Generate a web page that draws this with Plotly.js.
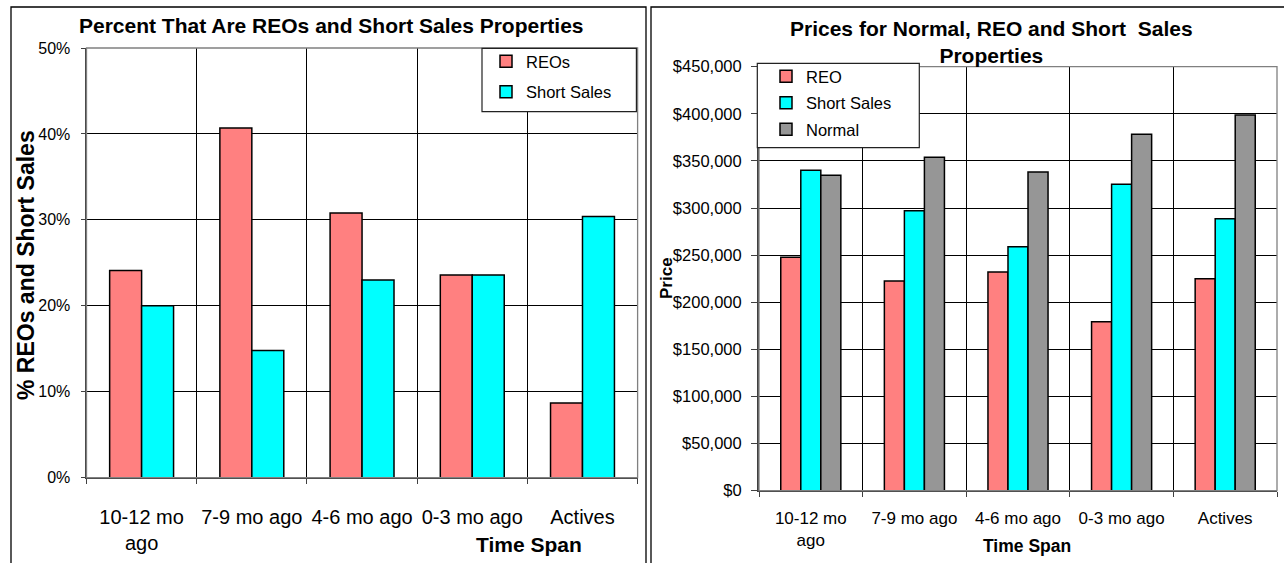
<!DOCTYPE html>
<html>
<head>
<meta charset="utf-8">
<script src="https://cdn.plot.ly/plotly-3.0.1.min.js"></script>
<style>html,body{margin:0;padding:0;background:#fff;}#chart{width:1284px;height:563px;}</style>
</head>
<body>
<div id="chart"></div>
<script>
// ---- data ----
const categories = ['10-12 mo ago', '7-9 mo ago', '4-6 mo ago', '0-3 mo ago', 'Actives'];
const tickLabels = ['10-12 mo<br>ago', '7-9 mo ago', '4-6 mo ago', '0-3 mo ago', 'Actives'];
const reoPct = [24.1, 40.7, 30.8, 23.6, 8.7];
const shortPct = [20.0, 14.8, 23.0, 23.6, 30.4];
const reoPrice = [247700, 222600, 232100, 179400, 225000];
const shortPrice = [340000, 297200, 259000, 325200, 288700];
const normalPrice = [334700, 353800, 338200, 378200, 398700];
const pctTicks = [0, 10, 20, 30, 40, 50];
const pctTickLabels = ['0%', '10%', '20%', '30%', '40%', '50%'];
const priceTicks = [0, 50000, 100000, 150000, 200000, 250000, 300000, 350000, 400000, 450000];
const priceTickLabels = ['$0', '$50,000', '$100,000', '$150,000', '$200,000', '$250,000', '$300,000', '$350,000', '$400,000', '$450,000'];

// ---- layout helpers ----
const W = 1284, H = 563;
const px = x => x / W;
const py = y => 1 - y / H;
const FONT = 'Liberation Sans, Arial, sans-serif';
const C_REO = '#FF8080', C_SHORT = '#00FFFF', C_NORMAL = '#969696';
const barLine = {color: '#000', width: 1.5};

const traces = [
  {type: 'bar', name: 'REOs', x: categories, y: reoPct, xaxis: 'x', yaxis: 'y',
   marker: {color: C_REO, line: barLine}, legend: 'legend', legendgroup: 'a', hoverinfo: 'none'},
  {type: 'bar', name: 'Short Sales', x: categories, y: shortPct, xaxis: 'x', yaxis: 'y',
   marker: {color: C_SHORT, line: barLine}, legend: 'legend', legendgroup: 'b', hoverinfo: 'none'},
  {type: 'bar', name: 'REO', x: categories, y: reoPrice, xaxis: 'x2', yaxis: 'y2',
   marker: {color: C_REO, line: barLine}, legend: 'legend2', legendgroup: 'c', hoverinfo: 'none'},
  {type: 'bar', name: 'Short Sales', x: categories, y: shortPrice, xaxis: 'x2', yaxis: 'y2',
   marker: {color: C_SHORT, line: barLine}, legend: 'legend2', legendgroup: 'd', hoverinfo: 'none'},
  {type: 'bar', name: 'Normal', x: categories, y: normalPrice, xaxis: 'x2', yaxis: 'y2',
   marker: {color: C_NORMAL, line: barLine}, legend: 'legend2', legendgroup: 'e', hoverinfo: 'none'}
];

const xCommon = {
  type: 'category', tickson: 'boundaries', ticks: 'outside', ticklen: 5, tickcolor: '#404040',
  showline: true, linecolor: '#404040', linewidth: 1.5, showgrid: true, gridcolor: '#000', gridwidth: 1,
  tickangle: 0, tickmode: 'array', tickvals: categories, ticktext: tickLabels, zeroline: false
};

const layout = {
  width: W, height: H, margin: {l: 0, r: 0, t: 0, b: 0},
  paper_bgcolor: '#fff', plot_bgcolor: '#fff', barmode: 'group', showlegend: true,
  font: {family: FONT, color: '#000'},
  xaxis: Object.assign({}, xCommon, {domain: [px(86.5), px(637.6)], anchor: 'y',
    tickfont: {family: FONT, size: 20, color: '#000'}, ticklabelstandoff: 21}),
  yaxis: {domain: [py(477.7), py(48)], anchor: 'x', range: [0, 50], tickmode: 'array', tickvals: pctTicks,
    ticktext: pctTickLabels, ticks: 'outside', ticklen: 4, tickcolor: '#404040', showline: true, linecolor: '#404040',
    linewidth: 2, showgrid: true, gridcolor: '#000', gridwidth: 1, zeroline: false,
    tickfont: {family: FONT, size: 16, color: '#000'}, ticklabelstandoff: 7},
  xaxis2: Object.assign({}, xCommon, {domain: [px(759), px(1277)], anchor: 'y2',
    tickfont: {family: FONT, size: 17, color: '#000'}, ticklabelstandoff: 11}),
  yaxis2: {domain: [py(490.7), py(66.7)], anchor: 'x2', range: [0, 450000], tickmode: 'array', tickvals: priceTicks,
    ticktext: priceTickLabels, ticks: 'outside', ticklen: 6, tickcolor: '#404040', showline: true,
    linecolor: '#404040', linewidth: 2, showgrid: true, gridcolor: '#000', gridwidth: 1, zeroline: false,
    tickfont: {family: FONT, size: 16.5, color: '#000'}, ticklabelstandoff: 6},
  bargap: 0.42,
  legend: {x: px(486), y: py(44), xanchor: 'left', yanchor: 'top', bgcolor: 'rgba(0,0,0,0)', borderwidth: 0,
    font: {family: FONT, size: 16.5, color: '#000'}, tracegroupgap: 6, traceorder: 'grouped'},
  legend2: {x: px(766), y: py(59), xanchor: 'left', yanchor: 'top', bgcolor: 'rgba(0,0,0,0)', borderwidth: 0,
    font: {family: FONT, size: 16.5, color: '#000'}, tracegroupgap: 2, traceorder: 'grouped'},
  shapes: [
    // chart frames
    {type: 'rect', xref: 'paper', yref: 'paper', x0: px(11), x1: px(646), y0: py(620), y1: py(7),
     line: {color: '#000', width: 1.3}, layer: 'below'},
    {type: 'rect', xref: 'paper', yref: 'paper', x0: px(651), x1: px(1320), y0: py(620), y1: py(7),
     line: {color: '#000', width: 1.3}, layer: 'below'},
    // plot area borders
    {type: 'rect', xref: 'paper', yref: 'paper', x0: px(86.5), x1: px(637.6), y0: py(477.7), y1: py(48),
     line: {color: '#808080', width: 1.3}, layer: 'above'},
    {type: 'rect', xref: 'paper', yref: 'paper', x0: px(759), x1: px(1277), y0: py(490.7), y1: py(66.7),
     line: {color: '#808080', width: 1.3}, layer: 'above'},
    // legend boxes
    {type: 'rect', xref: 'paper', yref: 'paper', x0: px(482), x1: px(636.4), y0: py(111.7), y1: py(48.3),
     fillcolor: '#fff', line: {color: '#222', width: 1.2}, layer: 'above'},
    {type: 'rect', xref: 'paper', yref: 'paper', x0: px(757.3), x1: px(919.3), y0: py(147.7), y1: py(63.3),
     fillcolor: '#fff', line: {color: '#222', width: 1.2}, layer: 'above'}
  ],
  annotations: [
    {text: '<b>Percent That Are REOs and Short Sales Properties</b>', xref: 'paper', yref: 'paper',
     x: px(331), y: py(26), xanchor: 'center', yanchor: 'middle', showarrow: false,
     font: {family: FONT, size: 21, color: '#000'}},
    {text: '<b>Prices for Normal, REO and Short\u00a0 Sales<br>Properties</b>', xref: 'paper', yref: 'paper',
     x: px(991.5), y: py(41.7), xanchor: 'center', yanchor: 'middle', showarrow: false,
     font: {family: FONT, size: 21, color: '#000'}},
    {text: '<b>% REOs and Short Sales</b>', xref: 'paper', yref: 'paper', x: px(26), y: py(265),
     xanchor: 'center', yanchor: 'middle', textangle: -90, showarrow: false,
     font: {family: FONT, size: 23, color: '#000'}},
    {text: '<b>Price</b>', xref: 'paper', yref: 'paper', x: px(666), y: py(278),
     xanchor: 'center', yanchor: 'middle', textangle: -90, showarrow: false,
     font: {family: FONT, size: 17, color: '#000'}},
    {text: '<b>Time Span</b>', xref: 'paper', yref: 'paper', x: px(529), y: py(544),
     xanchor: 'center', yanchor: 'middle', showarrow: false,
     font: {family: FONT, size: 21, color: '#000'}},
    {text: '<b>Time Span</b>', xref: 'paper', yref: 'paper', x: px(1027), y: py(545.7),
     xanchor: 'center', yanchor: 'middle', showarrow: false,
     font: {family: FONT, size: 17.5, color: '#000'}}
  ]
};

Plotly.newPlot('chart', traces, layout, {staticPlot: true, displayModeBar: false});
</script>
</body>
</html>
